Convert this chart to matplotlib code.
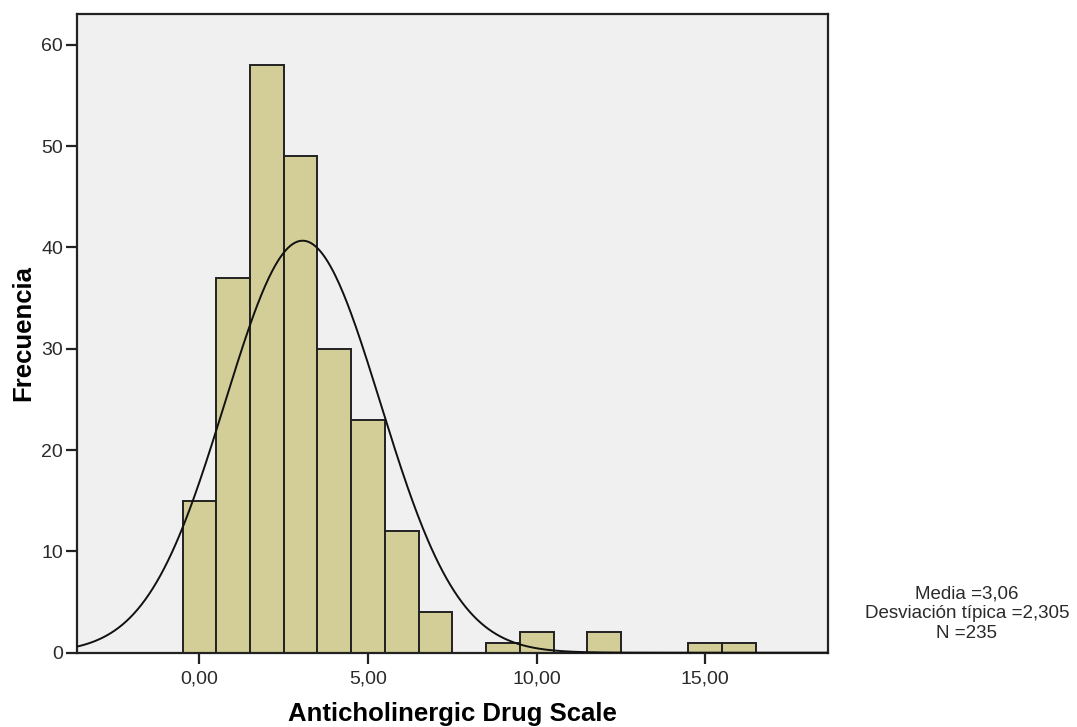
import numpy as np
import matplotlib.pyplot as plt

plt.rcParams['font.family'] = ['Liberation Sans', 'DejaVu Sans']

# Frequencies per integer score of the scale
scores = np.arange(0, 17)
counts = [15, 37, 58, 49, 30, 23, 12, 4, 0, 1, 2, 0, 2, 0, 0, 1, 1]
mean_val = 3.06
sd_val = 2.305
n_total = 235

fig = plt.figure(figsize=(10.77, 7.27), dpi=100)
ax = fig.add_axes([77 / 1077, 1 - 652.7 / 727, (827.7 - 77) / 1077, (652.7 - 14) / 727])
ax.set_facecolor('#F0F0F0')

ax.bar(scores, counts, width=1.0, color='#D3CE98', edgecolor='#222222', linewidth=1.4, zorder=2)

# fitted normal curve scaled to counts (bin width 1)
xs = np.linspace(-3.7, 18.7, 600)
ys = n_total / (sd_val * np.sqrt(2 * np.pi)) * np.exp(-0.5 * ((xs - mean_val) / sd_val) ** 2)
ax.plot(xs, ys, color='#111111', lw=1.4, zorder=3)

ax.set_xlim(-3.63, 18.63)
ax.set_ylim(0, 63.05)
ax.set_xticks([0, 5, 10, 15])
ax.set_xticklabels(['0,00', '5,00', '10,00', '15,00'])
ax.set_yticks([0, 10, 20, 30, 40, 50, 60])
ax.tick_params(axis='both', length=8, width=1.6, color='#222222', labelsize=14, labelcolor='#2a2a2a')
ax.tick_params(axis='x', pad=5)
ax.tick_params(axis='y', pad=2)
for s in ax.spines.values():
    s.set_linewidth(1.6)
    s.set_color('#222222')

ax.set_xlabel('Anticholinergic Drug Scale', fontsize=18.5, fontweight='bold', labelpad=10)
ax.set_ylabel('Frecuencia', fontsize=18.5, fontweight='bold', labelpad=4)

stats = 'Media ={}\nDesviación típica ={}\nN ={}'.format(
    f'{mean_val:.2f}'.replace('.', ','), f'{sd_val:.3f}'.replace('.', ','), n_total)
fig.text(967 / 1077, 1 - 614 / 727, stats,
         ha='center', va='center', fontsize=13.5, color='#2a2a2a', linespacing=1.2)

fig.savefig('out.png', dpi=100, facecolor='white')
